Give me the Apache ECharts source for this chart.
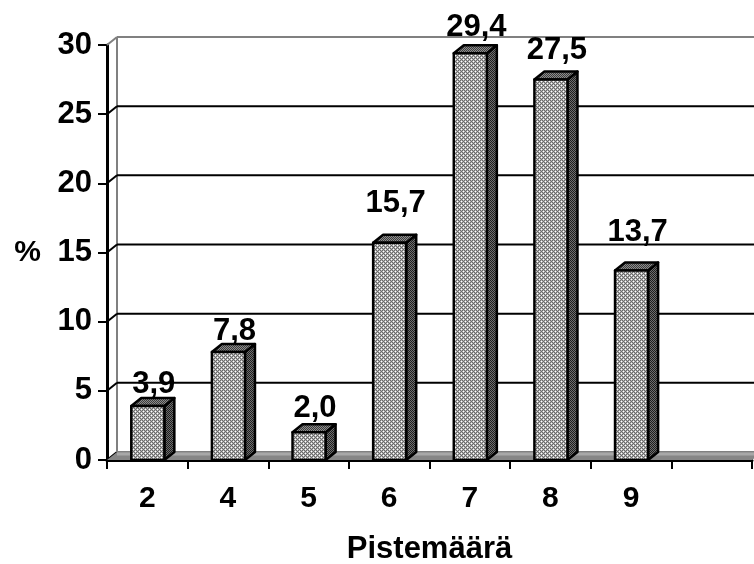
<!DOCTYPE html>
<html>
<head>
<meta charset="utf-8">
<script src="https://cdn.jsdelivr.net/npm/echarts@6/dist/echarts.min.js"></script>
<style>
  html, body { margin: 0; padding: 0; background: #fff; }
  #chart { width: 754px; height: 564px; }
</style>
</head>
<body>
<div id="chart"></div>
<script>
/* Pistemäärä distribution, Excel-style 3D columns drawn with a custom series */

const categories = ["2", "4", "5", "6", "7", "8", "9", ""];
const percents = [3.9, 7.8, 2.0, 15.7, 29.4, 27.5, 13.7];
const yTicks = [0, 5, 10, 15, 20, 25, 30];
// how far each value label floats above its column (px)
const labelLift = [6, 5, 8, 23, 10, 13, 22];

const FONT = "'Liberation Sans', Arial, sans-serif";
const DX = 10, DY = 8;   // 3D depth offset

function dither(c1, c2, dot) {
  const cv = document.createElement("canvas");
  cv.width = 4; cv.height = 4;
  const ctx = cv.getContext("2d");
  for (let y = 0; y < 4; y++) {
    for (let x = 0; x < 4; x++) {
      ctx.fillStyle = (x + y) % 2 === 0 ? c1 : c2;
      ctx.fillRect(x, y, 1, 1);
    }
  }
  if (dot) {
    ctx.fillStyle = dot;
    ctx.fillRect(1, 1, 1, 1);
    ctx.fillRect(3, 3, 1, 1);
  }
  return { image: cv, repeat: "repeat" };
}

const frontFill = dither("#6a6a6a", "#b4b4b4", "#ffffff");
const sideFill = dither("#1e1e1e", "#6e6e6e");
const topFill = dither("#3c3c3c", "#8c8c8c");

const fmt = v => v.toFixed(1).replace(".", ",");

function renderWall(params, api) {
  const v = api.value(0);
  const cs = params.coordSys;
  const p = api.coord([0, v]);
  const y = p[1];
  const left = cs.x, right = cs.x + cs.width;
  const kids = [];
  // back wall gridline
  kids.push({
    type: "line",
    shape: { x1: left + DX, y1: y - DY, x2: right + DX, y2: y - DY },
    style: { stroke: v === 30 || v === 0 ? "#808080" : "#000", lineWidth: 2 }
  });
  // connector on the side wall
  kids.push({
    type: "line",
    shape: { x1: left, y1: y, x2: left + DX, y2: y - DY },
    style: { stroke: v === 30 ? "#808080" : "#000", lineWidth: 2 }
  });
  if (v === 0) {
    kids.push({
      type: "polygon",
      shape: { points: [[left, y], [left + DX, y - DY], [right + DX, y - DY], [right, y]] },
      style: { fill: "#868686", stroke: null }
    });
    kids.push({
      type: "line",
      shape: { x1: left + DX, y1: y - DY + 2, x2: right + DX, y2: y - DY + 2 },
      style: { stroke: "#a8a8a8", lineWidth: 3 }
    });
    const top = api.coord([0, 30])[1];
    kids.push({
      type: "line",
      shape: { x1: left + DX, y1: top - DY, x2: left + DX, y2: y - DY },
      style: { stroke: "#808080", lineWidth: 2 }
    });
  }
  return { type: "group", children: kids };
}

function renderBar(params, api) {
  const i = api.value(0);
  const v = api.value(1);
  const base = api.coord([i, 0]);
  const tip = api.coord([i, v]);
  const w = api.size([1, 0])[0] * 0.41;
  const x0 = base[0] - w / 2 + 0.5, x1 = x0 + w;
  const y0 = tip[1], y1 = base[1];
  const st = { stroke: "#000", lineWidth: 2.5, lineJoin: "round" };
  const lift = labelLift[params.dataIndex] || 8;
  return {
    type: "group",
    children: [
      { type: "polygon", shape: { points: [[x1, y0], [x1 + DX, y0 - DY], [x1 + DX, y1 - DY], [x1, y1]] },
        style: Object.assign({ fill: sideFill }, st) },
      { type: "polygon", shape: { points: [[x0, y0], [x0 + DX, y0 - DY], [x1 + DX, y0 - DY], [x1, y0]] },
        style: Object.assign({ fill: topFill }, st) },
      { type: "rect", shape: { x: x0, y: y0, width: w, height: y1 - y0 },
        style: Object.assign({ fill: frontFill }, st) },
      { type: "text", x: (x0 + x1 + DX) / 2 + 1, y: y0 - DY - lift - 8,
        style: { text: fmt(v), fill: "#000", font: "bold 31px " + FONT,
                 align: "center", verticalAlign: "middle" } }
    ]
  };
}

const chart = echarts.init(document.getElementById("chart"), null, { renderer: "canvas" });

chart.setOption({
  animation: false,
  backgroundColor: "#fff",
  grid: { left: 107, top: 45, width: 645, height: 415, containLabel: false, outerBoundsMode: "none" },
  xAxis: {
    type: "category",
    data: categories,
    boundaryGap: true,
    name: "Pistemäärä",
    nameLocation: "middle",
    nameGap: 74,
    nameTextStyle: { color: "#000", fontFamily: FONT, fontWeight: "bold", fontSize: 31, verticalAlign: "top" },
    axisLine: { show: true, lineStyle: { color: "#000", width: 3 } },
    axisTick: { show: true, interval: 0, length: 9, lineStyle: { color: "#000", width: 2 } },
    axisLabel: { interval: 0, margin: 24, color: "#000", fontFamily: FONT, fontWeight: "bold", fontSize: 30 },
    splitLine: { show: false }
  },
  yAxis: {
    type: "value",
    min: 0,
    max: 30,
    interval: 5,
    name: "%",
    nameLocation: "middle",
    nameRotate: 0,
    nameGap: 66,
    nameTextStyle: { color: "#000", fontFamily: FONT, fontWeight: "bold", fontSize: 30, padding: [8, 0, 0, 0] },
    axisLine: { show: true, lineStyle: { color: "#000", width: 3 } },
    axisTick: { show: true, length: 9, lineStyle: { color: "#000", width: 2 } },
    axisLabel: { margin: 15, color: "#000", fontFamily: FONT, fontWeight: "bold", fontSize: 31 },
    splitLine: { show: false }
  },
  series: [
    {
      type: "custom",
      name: "wall",
      silent: true,
      z: 1,
      data: yTicks.map(v => [v]),
      encode: { y: 0 },
      renderItem: renderWall
    },
    {
      type: "custom",
      name: "percent",
      z: 3,
      clip: false,
      data: percents.map((v, i) => [i, v]),
      encode: { x: 0, y: 1 },
      renderItem: renderBar
    }
  ]
});
</script>
</body>
</html>
